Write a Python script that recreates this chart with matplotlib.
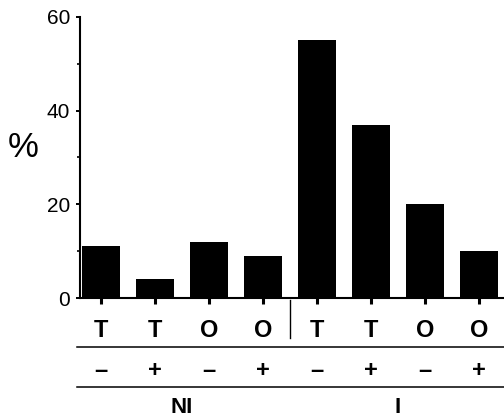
import matplotlib.pyplot as plt
from matplotlib.transforms import blended_transform_factory

# bar data (percent)
values = [11, 4, 12, 9, 55, 37, 20, 10]
letters = ['T', 'T', 'O', 'O', 'T', 'T', 'O', 'O']
signs = ['\u2013', '+', '\u2013', '+', '\u2013', '+', '\u2013', '+']
groups = ['NI', 'I']
group_size = 4

plt.rcParams['font.family'] = ['Liberation Sans', 'DejaVu Sans']

fig = plt.figure(figsize=(5.04, 4.19), dpi=100)
ax = fig.add_axes([80 / 504, (419 - 298) / 419, 424 / 504, 281 / 419])

x = list(range(len(values)))
ax.bar(x, values, width=0.69, color='black')

ax.set_xlim(-0.389, 7.463)
ax.set_ylim(0, 60)
ax.set_yticks([0, 20, 40, 60])
ax.set_yticks([10, 30, 50], minor=True)
ax.set_xticks(x)
ax.set_xticklabels([])
ax.tick_params(axis='y', which='major', length=3, width=1.4, labelsize=15, pad=4)
ax.tick_params(axis='y', which='minor', length=2, width=1.2)
ax.tick_params(axis='x', length=4, width=2.2, direction='out')

for s in ['top', 'right']:
    ax.spines[s].set_visible(False)
for s in ['left', 'bottom']:
    ax.spines[s].set_linewidth(1.5)

ax.text(-0.134, 0.534, '%', transform=ax.transAxes, fontsize=25,
        ha='center', va='center')

tr = blended_transform_factory(ax.transData, ax.transAxes)

# labels under the bars
for xi, lt, sg in zip(x, letters, signs):
    ax.text(xi, -0.139, lt, transform=tr, fontsize=17, fontweight='bold',
            ha='center', va='baseline')
    ax.text(xi, -0.258, sg, transform=tr, fontsize=17, fontweight='bold',
            ha='center', va='center')

# group labels
for gi, g in enumerate(groups):
    cx = gi * group_size + (group_size - 1) / 2
    ax.text(cx, -0.411, g, transform=tr, fontsize=16, fontweight='bold',
            ha='center', va='baseline')

# divider between groups and rule lines
ax.plot([group_size - 0.5, group_size - 0.5], [-0.007, -0.142], transform=tr,
        color='black', lw=1.0, clip_on=False)
for yy in [-0.174, -0.317]:
    ax.plot([-0.007, 1.0], [yy, yy], transform=ax.transAxes, color='black',
            lw=1.1, clip_on=False)

fig.savefig('out.png', dpi=100)
